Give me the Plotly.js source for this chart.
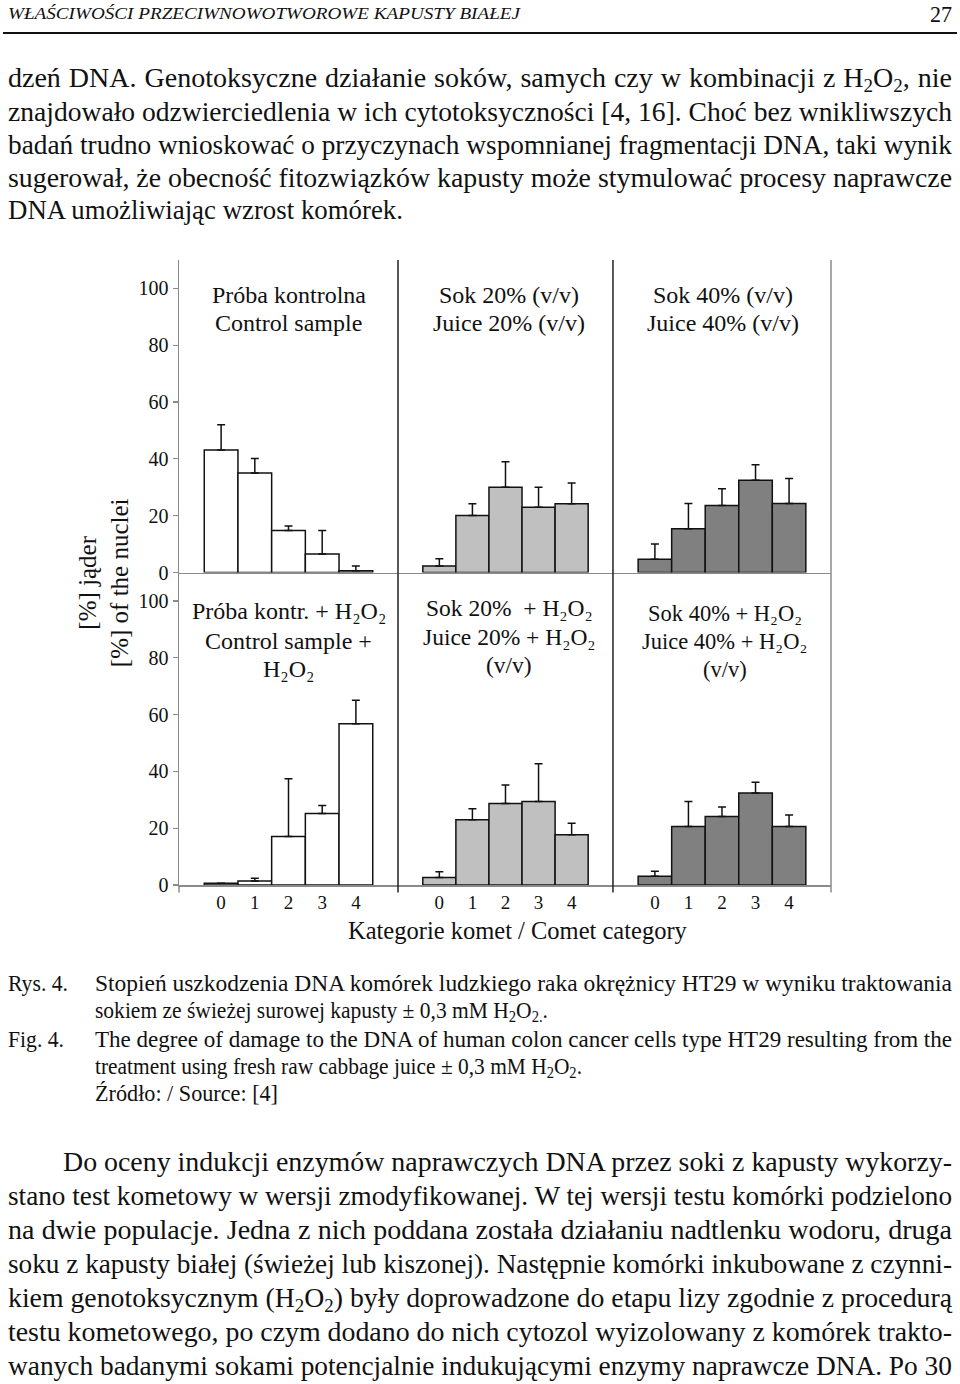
<!DOCTYPE html>
<html><head><meta charset="utf-8">
<script src="https://cdn.plot.ly/plotly-3.0.1.min.js"></script>
<style>
html,body{margin:0;padding:0;background:#fff;}
body{width:960px;height:1384px;position:relative;overflow:hidden;font-family:"Liberation Serif","Times New Roman",serif;color:#111;}
.ln{position:absolute;white-space:nowrap;line-height:1.2;}
.ln span.t{display:inline-block;transform-origin:0 50%;}
.b{font-size:28px;}
.c{font-size:24px;}
.h{font-size:17px;font-style:italic;}
sub{font-size:0.68em;vertical-align:-0.25em;line-height:0;}
#chart{position:absolute;left:0;top:240px;width:960px;height:720px;}
#rule{position:absolute;left:3px;top:32px;width:954px;height:2px;background:#111;}
</style></head>
<body>
<div class="ln h" style="left:8px;top:4px" data-w="512" data-mode="scale"><span class="t">WŁAŚCIWOŚCI PRZECIWNOWOTWOROWE KAPUSTY BIAŁEJ</span></div>
<div class="ln" style="left:930px;top:0px;font-size:24px" data-w="22" data-mode="scale"><span class="t">27</span></div>
<div id="rule"></div>

<div class="ln b" style="left:8px;top:61px" data-w="944"><span class="t">dzeń DNA. Genotoksyczne działanie soków, samych czy w kombinacji z H<sub>2</sub>O<sub>2</sub>, nie</span></div>
<div class="ln b" style="left:8px;top:95px" data-w="944"><span class="t">znajdowało odzwierciedlenia w ich cytotoksyczności [4, 16]. Choć bez wnikliwszych</span></div>
<div class="ln b" style="left:8px;top:128px" data-w="944"><span class="t">badań trudno wnioskować o przyczynach wspomnianej fragmentacji DNA, taki wynik</span></div>
<div class="ln b" style="left:8px;top:161px" data-w="944"><span class="t">sugerował, że obecność fitozwiązków kapusty może stymulować procesy naprawcze</span></div>
<div class="ln b" style="left:8px;top:193px" data-w="395" data-mode="scale"><span class="t">DNA umożliwiając wzrost komórek.</span></div>

<div id="chart"></div>

<div class="ln c" style="left:8px;top:969px" data-w="60" data-mode="scale"><span class="t">Rys. 4.</span></div>
<div class="ln c" style="left:95px;top:969px" data-w="857" data-mode="scale"><span class="t">Stopień uszkodzenia DNA komórek ludzkiego raka okrężnicy HT29 w wyniku traktowania</span></div>
<div class="ln c" style="left:95px;top:996px" data-w="453" data-mode="scale"><span class="t">sokiem ze świeżej surowej kapusty ± 0,3 mM H<sub>2</sub>O<sub>2.</sub>.</span></div>
<div class="ln c" style="left:8px;top:1025px" data-w="56" data-mode="scale"><span class="t">Fig. 4.</span></div>
<div class="ln c" style="left:95px;top:1025px" data-w="857" data-mode="scale"><span class="t">The degree of damage to the DNA of human colon cancer cells type HT29 resulting from the</span></div>
<div class="ln c" style="left:95px;top:1052px" data-w="487" data-mode="scale"><span class="t">treatment using fresh raw cabbage juice ± 0,3 mM H<sub>2</sub>O<sub>2</sub>.</span></div>
<div class="ln c" style="left:95px;top:1079px" data-w="183" data-mode="scale"><span class="t">Źródło: / Source: [4]</span></div>

<div class="ln b" style="left:63px;top:1145px" data-w="889"><span class="t">Do oceny indukcji enzymów naprawczych DNA przez soki z kapusty wykorzy-</span></div>
<div class="ln b" style="left:8px;top:1179px" data-w="944"><span class="t">stano test kometowy w wersji zmodyfikowanej. W tej wersji testu komórki podzielono</span></div>
<div class="ln b" style="left:8px;top:1213px" data-w="944"><span class="t">na dwie populacje. Jedna z nich poddana została działaniu nadtlenku wodoru, druga</span></div>
<div class="ln b" style="left:8px;top:1247px" data-w="944"><span class="t">soku z kapusty białej (świeżej lub kiszonej). Następnie komórki inkubowane z czynni-</span></div>
<div class="ln b" style="left:8px;top:1281px" data-w="944"><span class="t">kiem genotoksycznym (H<sub>2</sub>O<sub>2</sub>) były doprowadzone do etapu lizy zgodnie z procedurą</span></div>
<div class="ln b" style="left:8px;top:1315px" data-w="944"><span class="t">testu kometowego, po czym dodano do nich cytozol wyizolowany z komórek trakto-</span></div>
<div class="ln b" style="left:8px;top:1349px" data-w="944"><span class="t">wanych badanymi sokami potencjalnie indukującymi enzymy naprawcze DNA. Po 30</span></div>

<script>
// ---- chart data ----
var categories = ['0', '1', '2', '3', '4'];
var yTicks = [0, 20, 40, 60, 80, 100];

var control      = [43.1, 35.0, 14.8, 6.5, 0.6];
var controlErr   = [8.9, 5.1, 1.6, 8.3, 1.7];
var juice20      = [2.3, 20.1, 30.0, 23.0, 24.2];
var juice20Err   = [2.5, 4.1, 9.0, 7.0, 7.3];
var juice40      = [4.7, 15.4, 23.6, 32.5, 24.3];
var juice40Err   = [5.3, 8.9, 5.9, 5.4, 8.8];

var controlH     = [0.6, 1.4, 17.1, 25.2, 56.8];
var controlHErr  = [0.0, 1.0, 20.3, 2.8, 8.2];
var juice20H     = [2.6, 23.0, 28.7, 29.4, 17.7];
var juice20HErr  = [2.1, 3.8, 6.5, 13.3, 4.0];
var juice40H     = [3.1, 20.6, 24.1, 32.4, 20.6];
var juice40HErr  = [1.7, 8.8, 3.4, 3.8, 4.0];

var panelTitles = [
  ['Próba kontrolna', 'Control sample'],
  ['Sok 20% (v/v)', 'Juice 20% (v/v)'],
  ['Sok 40% (v/v)', 'Juice 40% (v/v)'],
  ['Próba kontr. + H₂O₂', 'Control sample +', 'H₂O₂'],
  ['Sok 20%  + H₂O₂', 'Juice 20% + H₂O₂', '(v/v)'],
  ['Sok 40% + H₂O₂', 'Juice 40% + H₂O₂', '(v/v)']
];
var yTitle = '[%] jąder<br>[%] of the nuclei';
var xTitle = 'Kategorie komet / Comet category';

// ---- text line fitting ----
document.querySelectorAll('.ln').forEach(function (d) {
  var s = d.querySelector('span.t');
  if (!d.dataset.w) return;
  var w = +d.dataset.w;
  var nat = s.getBoundingClientRect().width;
  var spaces = (s.textContent.match(/ /g) || []).length;
  if (d.dataset.mode === 'scale' || nat > w || spaces === 0) {
    s.style.transform = 'scaleX(' + (w / nat) + ')';
  } else {
    s.style.wordSpacing = ((w - nat) / spaces) + 'px';
  }
});

// ---- chart ----
var FONT = '"Liberation Serif", "Times New Roman", serif';
var xs = categories.map(function (c, i) { return i; });

function bars(vals, errs, color, xa, ya) {
  return {
    type: 'bar', x: xs, y: vals, xaxis: xa, yaxis: ya, width: 1,
    marker: { color: color, line: { color: '#111', width: 1.5 } },
    error_y: { type: 'data', symmetric: false, array: errs,
               arrayminus: errs.map(function () { return 0; }),
               color: '#111', thickness: 1.5, width: 4 },
    hoverinfo: 'skip', showlegend: false
  };
}

var WHITE = '#ffffff', LIGHT = '#c0c0c0', DARK = '#808080';
var data = [
  bars(control,  controlErr,  WHITE, 'x',  'y'),
  bars(juice20,  juice20Err,  LIGHT, 'x2', 'y'),
  bars(juice40,  juice40Err,  DARK,  'x3', 'y'),
  bars(controlH, controlHErr, WHITE, 'x4', 'y2'),
  bars(juice20H, juice20HErr, LIGHT, 'x5', 'y2'),
  bars(juice40H, juice40HErr, DARK,  'x6', 'y2')
];

var GRAY = '#8a8a8a';
var doms = [[0, 0.3359], [0.3359, 0.6656], [0.6656, 1]];
function xax(dom, anchor, labels) {
  return {
    domain: dom, anchor: anchor, range: [-1.25, 5.25],
    showline: true, linecolor: GRAY, linewidth: 1.5,
    ticks: '', showgrid: false, zeroline: false,
    tickvals: xs, ticktext: categories, showticklabels: labels,
    tickfont: { size: 19, color: '#111', family: FONT }, fixedrange: true
  };
}
function yax(dom, anchor) {
  return {
    domain: dom, anchor: anchor, range: [0, 110],
    showline: true, linecolor: GRAY, linewidth: 1.5,
    ticks: 'outside', ticklen: 5, tickwidth: 1.2, tickcolor: GRAY,
    tickvals: yTicks, tickfont: { size: 20, color: '#111', family: FONT },
    showgrid: false, zeroline: false, fixedrange: true
  };
}

// per-line vertical positions (in axis units) for the panel titles
var titleLineY = [
  [97.6, 87.7], [97.6, 87.7], [97.6, 87.7],
  [96.3, 85.8, 76.0], [97.4, 87.2, 77.4], [95.6, 85.8, 76.0]
];
var titleXref = ['x domain', 'x2 domain', 'x3 domain', 'x4 domain', 'x5 domain', 'x6 domain'];
var titleYref = ['y', 'y', 'y', 'y2', 'y2', 'y2'];
var titleShift = [0, 4, 1, 0, 4, 3];
var titleSize = [24, 24, 24, 24, 23.5, 22.5];

var annotations = [];
panelTitles.forEach(function (lines, i) {
  lines.forEach(function (t, j) {
    annotations.push({ text: t, xref: titleXref[i], yref: titleYref[i], x: 0.5, y: titleLineY[i][j],
      xshift: titleShift[i], xanchor: 'center', yanchor: 'middle', showarrow: false,
      font: { size: titleSize[i], color: '#111', family: FONT } });
  });
});
annotations.push({ text: yTitle, xref: 'paper', yref: 'paper', x: -0.115, y: 0.483,
  textangle: -90, xanchor: 'center', yanchor: 'middle', showarrow: false, align: 'center',
  font: { size: 25, color: '#111', family: FONT } });
annotations.push({ text: xTitle, xref: 'paper', yref: 'paper', x: 0.52, y: -0.0736,
  xanchor: 'center', yanchor: 'middle', showarrow: false,
  font: { size: 24.5, color: '#111', family: FONT } });

function vline(x, y0, y1, color) {
  return { type: 'line', xref: 'paper', yref: 'paper', x0: x, x1: x, y0: y0, y1: y1,
           line: { color: color, width: 1.5 } };
}

var layout = {
  width: 960, height: 720,
  margin: { l: 179, r: 129, t: 20, b: 75 },
  paper_bgcolor: '#ffffff', plot_bgcolor: 'rgba(0,0,0,0)',
  font: { family: FONT, color: '#111' },
  bargap: 0,
  showlegend: false,
  xaxis:  xax(doms[0], 'y', false),
  xaxis2: xax(doms[1], 'y', false),
  xaxis3: xax(doms[2], 'y', false),
  xaxis4: xax(doms[0], 'y2', true),
  xaxis5: xax(doms[1], 'y2', true),
  xaxis6: xax(doms[2], 'y2', true),
  yaxis:  yax([0.5, 1], 'x'),
  yaxis2: yax([0, 0.5], 'x4'),
  shapes: [
    vline(doms[1][0], -0.012, 1, '#222'),
    vline(doms[2][0], -0.012, 1, '#222'),
    vline(1, -0.012, 1, GRAY),
    vline(0, -0.012, 0, GRAY)
  ],
  annotations: annotations
};

Plotly.newPlot('chart', data, layout, { staticPlot: true, displayModeBar: false });
</script>
</body></html>
